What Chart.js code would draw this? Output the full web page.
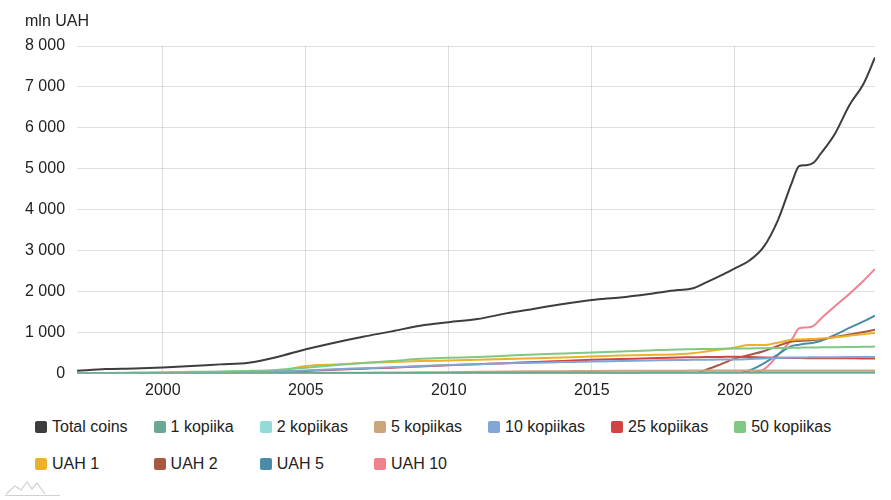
<!DOCTYPE html>
<html>
<head>
<meta charset="utf-8">
<title>Coins in circulation</title>
<script src="https://cdn.jsdelivr.net/npm/chart.js@4/dist/chart.umd.min.js"></script>
<style>
    body { margin: 0; background: #fff; font-family: "Liberation Sans", Arial, sans-serif; }
    #wrap { position: relative; width: 891px; height: 500px; }
    #chart-box { width: 891px; height: 407px; }
    #legend {
        display: grid;
        grid-template-columns: repeat(7, auto);
        justify-content: start;
        column-gap: 26px;
        row-gap: 18px;
        padding: 10px 0 0 35px;
        font-size: 16px;
        line-height: 19px;
        color: #222;
    }
    .legend-item { display: flex; align-items: center; white-space: nowrap; }
    .legend-box { width: 12px; height: 12px; border-radius: 2px; margin-right: 5px; }
    #logo { position: absolute; left: 5px; top: 480px; }
</style>
</head>
<body>
<div id="wrap">
    <div id="chart-box"><canvas id="coins-chart"></canvas></div>
    <div id="legend"></div>
    <svg id="logo" width="56" height="16" viewBox="0 0 56 16">
        <path d="M1 14 L10 6 L16 10 L22 2 L27 9 L32 3 L40 14" fill="none" stroke="#d0d0d0" stroke-width="1.2"/>
        <path d="M0 15.5 H55" stroke="#d0d0d0" stroke-width="1"/>
    </svg>
</div>

<script>
// dates (decimal years) of the readings
var years = [1997, 1998, 1999, 2000, 2001, 2002, 2003, 2004, 2005, 2006, 2007, 2008, 2009, 2010, 2011,
    2012, 2013, 2014, 2015, 2016, 2017, 2018, 2018.5, 2019, 2019.5, 2020, 2020.5, 2021, 2021.5, 2022,
    2022.25, 2022.5, 2022.75, 2023, 2023.5, 2024, 2024.5, 2024.9];

// mln UAH
var totalCoins = [75, 115, 130, 155, 190, 230, 270, 410, 600, 760, 905, 1035, 1175, 1260, 1335,
    1475, 1590, 1705, 1800, 1865, 1950, 2045, 2080, 2230, 2395, 2575, 2760, 3090, 3740, 4680,
    5070, 5090, 5150, 5370, 5860, 6550, 7080, 7720];
var kop1 = [10, 11, 12, 13, 14, 15, 16, 17, 18, 19, 20, 21, 22, 23, 24,
    25, 26, 27, 28, 28, 29, 30, 30, 30, 30, 30, 30, 30, 30, 30,
    30, 30, 30, 30, 30, 30, 30, 30];
var kop2 = [3, 4, 5, 6, 7, 8, 9, 10, 11, 12, 13, 14, 15, 16, 16,
    17, 17, 18, 18, 18, 19, 19, 19, 19, 19, 19, 19, 19, 19, 19,
    19, 19, 19, 19, 19, 19, 19, 19];
var kop5 = [5, 6, 8, 10, 12, 14, 16, 18, 20, 24, 28, 32, 36, 40, 47,
    54, 60, 65, 70, 73, 75, 77, 78, 78, 79, 79, 80, 80, 80, 80,
    80, 80, 80, 80, 80, 80, 80, 80];
var kop10 = [5, 8, 11, 15, 20, 30, 42, 60, 80, 110, 135, 160, 190, 215, 235,
    255, 270, 285, 300, 312, 324, 336, 340, 344, 347, 350, 360, 372, 385, 395,
    398, 400, 402, 404, 406, 408, 410, 412];
var kop25 = [0, 0, 0, 0, 0, 5, 15, 40, 70, 100, 125, 150, 180, 210, 235,
    260, 290, 315, 340, 360, 380, 400, 405, 410, 412, 415, 410, 400, 392, 385,
    383, 381, 380, 379, 378, 377, 376, 375];
var kop50 = [15, 22, 30, 38, 48, 58, 70, 95, 150, 210, 265, 310, 365, 390, 410,
    440, 470, 495, 520, 545, 570, 595, 600, 605, 610, 615, 620, 625, 630, 635,
    638, 640, 642, 645, 650, 655, 660, 665];
var uah1 = [0, 0, 0, 0, 0, 0, 0, 60, 190, 230, 265, 290, 310, 325, 340,
    360, 380, 400, 425, 445, 460, 480, 500, 545, 590, 640, 700, 700, 760, 830,
    840, 845, 850, 860, 890, 930, 965, 1000];
var uah2 = [0, 0, 0, 0, 0, 0, 0, 0, 0, 0, 0, 0, 0, 0, 0,
    0, 0, 0, 0, 0, 0, 0, 0, 100, 230, 370, 460, 550, 680, 790,
    800, 810, 825, 840, 900, 960, 1020, 1075];
var uah5 = [0, 0, 0, 0, 0, 0, 0, 0, 0, 0, 0, 0, 0, 0, 0,
    0, 0, 0, 0, 0, 0, 0, 0, 0, 0, 0, 80, 250, 470, 680,
    710, 740, 760, 800, 950, 1120, 1280, 1420];
var uah10 = [null, null, null, null, null, null, null, null, null, null, null, null, null, null, null,
    null, null, null, null, null, null, null, null, null, null, null, 0, 100, 450, 850,
    1110, 1130, 1170, 1340, 1650, 1950, 2270, 2560];

var seriesNames = ["Total coins", "1 kopiika", "2 kopiikas", "5 kopiikas", "10 kopiikas", "25 kopiikas",
    "50 kopiikas", "UAH 1", "UAH 2", "UAH 5", "UAH 10"];
var seriesValues = [totalCoins, kop1, kop2, kop5, kop10, kop25, kop50, uah1, uah2, uah5, uah10];
var seriesColors = ["#3d3d3d", "#6aa893", "#93dbd9", "#cda57a", "#81a5d6", "#d04444",
    "#80c883", "#ecb02a", "#a85a40", "#4a8ba8", "#ef8291"];

var xTicks = [2000, 2005, 2010, 2015, 2020];
var yMax = 8000;
var yStep = 1000;
var unitText = "mln UAH";

function spaced(v) {
    return String(v).replace(/\B(?=(\d{3})+(?!\d))/g, " ");
}

var datasets = seriesNames.map(function (name, i) {
    return {
        label: name,
        data: years.map(function (y, j) { return { x: y, y: seriesValues[i][j] }; }),
        borderColor: seriesColors[i],
        backgroundColor: seriesColors[i],
        borderWidth: 2,
        pointRadius: 0,
        cubicInterpolationMode: "monotone",
        spanGaps: false
    };
});

// html legend laid out in columns like the original
const htmlLegend = {
    id: "htmlLegend",
    afterUpdate(chart) {
        const box = document.getElementById("legend");
        box.innerHTML = "";
        chart.options.plugins.legend.labels.generateLabels(chart).forEach(item => {
            const el = document.createElement("div");
            el.className = "legend-item";
            const sw = document.createElement("span");
            sw.className = "legend-box";
            sw.style.background = item.fillStyle;
            const txt = document.createElement("span");
            txt.textContent = item.text;
            el.appendChild(sw);
            el.appendChild(txt);
            box.appendChild(el);
        });
    }
};

// unit label above the y axis
const unitLabel = {
    id: "unitLabel",
    afterDraw(chart) {
        const c = chart.ctx;
        c.save();
        c.font = '16px "Liberation Sans", Arial, sans-serif';
        c.fillStyle = "#222";
        c.textBaseline = "middle";
        c.textAlign = "left";
        c.fillText(unitText, 25, 22);
        c.restore();
    }
};

Chart.defaults.font.family = '"Liberation Sans", Arial, sans-serif';
Chart.defaults.font.size = 16;
Chart.defaults.color = "#222";

let ctx = document.getElementById("coins-chart").getContext("2d");
var coinsChart = new Chart(ctx, {
    type: "line",
    data: { datasets: datasets },
    options: {
        responsive: true,
        maintainAspectRatio: false,
        animation: false,
        layout: { padding: { left: 13, right: 16, top: 46, bottom: 0 } },
        plugins: {
            legend: { display: false },
            tooltip: { enabled: false }
        },
        scales: {
            x: {
                type: "linear",
                min: years[0],
                max: years[years.length - 1],
                afterBuildTicks: function (scale) {
                    scale.ticks = xTicks.map(function (v) { return { value: v }; });
                },
                ticks: {
                    padding: 7,
                    maxRotation: 0,
                    callback: function (v) { return String(v); }
                },
                grid: { color: "rgba(0,0,0,0.13)", drawTicks: false },
                border: { display: false }
            },
            y: {
                min: 0,
                max: yMax,
                ticks: {
                    stepSize: yStep,
                    padding: 12,
                    callback: function (v) { return spaced(v); }
                },
                grid: { color: "rgba(0,0,0,0.12)", drawTicks: false },
                border: { display: false }
            }
        }
    },
    plugins: [htmlLegend, unitLabel]
});
</script>
</body>
</html>
